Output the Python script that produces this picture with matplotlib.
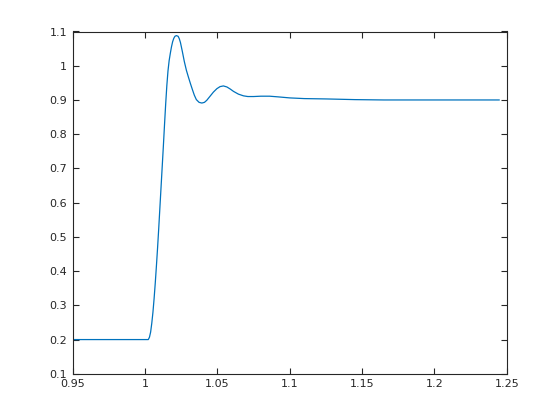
import matplotlib
matplotlib.use('Agg')
import matplotlib.pyplot as plt
from matplotlib.ticker import FuncFormatter

# points
t = [0.95, 1.0022, 1.0030, 1.0038, 1.0046, 1.0054, 1.0062, 1.0070, 1.0078,
     1.0086, 1.0094, 1.0102, 1.0110, 1.0118, 1.0126, 1.0134, 1.0142, 1.0150,
     1.0158, 1.0166, 1.0174, 1.0182, 1.0190, 1.0198, 1.0206, 1.0216, 1.0228,
     1.0236, 1.0244, 1.0257, 1.0271, 1.0285, 1.0299, 1.0313, 1.0327, 1.0340,
     1.0354, 1.0373, 1.0392, 1.0410, 1.0426, 1.0449, 1.0472, 1.0496, 1.0518,
     1.0541, 1.0565, 1.0588, 1.0611, 1.0645, 1.0680, 1.0710, 1.0750, 1.0800,
     1.0860, 1.0920, 1.1000, 1.1100, 1.1250, 1.1450, 1.1650, 1.2447]
y = [0.2, 0.2, 0.207, 0.222, 0.248, 0.280, 0.320, 0.365, 0.415,
     0.468, 0.525, 0.585, 0.645, 0.705, 0.765, 0.828, 0.888, 0.942,
     0.985, 1.015, 1.036, 1.055, 1.070, 1.080, 1.086, 1.088, 1.086,
     1.079, 1.068, 1.042, 1.012, 0.987, 0.967, 0.948, 0.930, 0.914,
     0.901, 0.893, 0.891, 0.893, 0.899, 0.911, 0.923, 0.933, 0.939,
     0.941, 0.938, 0.932, 0.925, 0.917, 0.912, 0.910, 0.910, 0.911,
     0.911, 0.909, 0.906, 0.904, 0.903, 0.901, 0.900, 0.900]

xticks = [0.95, 1.0, 1.05, 1.1, 1.15, 1.2, 1.25]
yticks = [0.1, 0.2, 0.3, 0.4, 0.5, 0.6, 0.7, 0.8, 0.9, 1.0, 1.1]

fig = plt.figure(figsize=(5.6, 4.2), dpi=100)
ax = fig.add_axes([0.13, 0.11, 0.775, 0.815])
ax.plot(t, y, color='#0072BD', linewidth=0.9)

ax.set_xlim(0.95, 1.25)
ax.set_ylim(0.1, 1.1)
ax.set_xticks(xticks)
ax.set_yticks(yticks)
fmt = FuncFormatter(lambda v, p: '%g' % round(v, 4))
ax.xaxis.set_major_formatter(fmt)
ax.yaxis.set_major_formatter(fmt)

dark = '#262626'
for s in ax.spines.values():
    s.set_color(dark)
    s.set_linewidth(0.8)
ax.tick_params(direction='in', top=True, right=True, length=4, width=0.8,
               colors=dark, labelsize=8, pad=4)

fig.savefig('out.png', dpi=100)
